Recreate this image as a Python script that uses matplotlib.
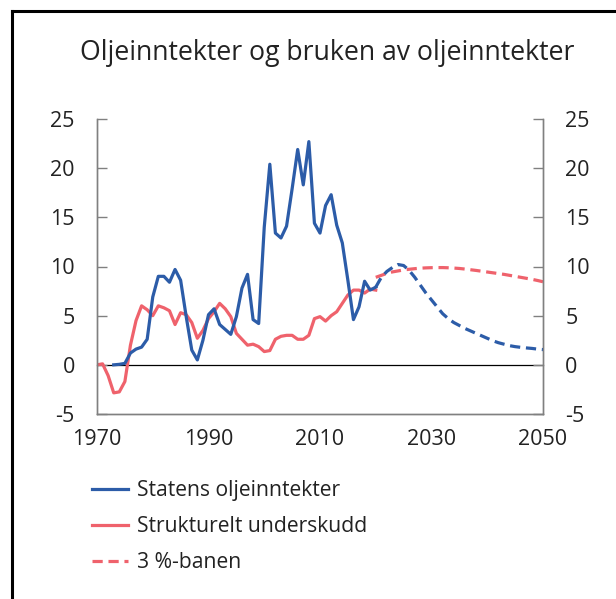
import matplotlib
matplotlib.use("Agg")
import matplotlib.pyplot as plt
from matplotlib.lines import Line2D

plt.rcParams['font.family'] = ['Open Sans', 'DejaVu Sans']
plt.rcParams['axes.unicode_minus'] = False

# Statens oljeinntekter (faktiske tall), prosent
oil_years = list(range(1973, 2021))
oil_income = [0.0, 0.05, 0.15, 1.2, 1.6, 1.8, 2.6, 6.9, 9.0, 9.0,
              8.4, 9.7, 8.6, 4.9, 1.5, 0.5, 2.5, 5.1, 5.7, 4.1,
              3.6, 3.1, 4.9, 7.8, 9.2, 4.6, 4.2, 14.0, 20.4, 13.4,
              12.9, 14.1, 17.9, 21.9, 18.3, 22.7, 14.4, 13.4, 16.2, 17.3,
              14.2, 12.4, 8.6, 4.6, 5.9, 8.5, 7.6, 7.9]

# Statens oljeinntekter, framskrivning
proj_years = list(range(2020, 2051))
oil_proj = [7.9, 8.9, 9.5, 9.9, 10.2, 10.1, 9.6, 8.9, 8.1, 7.3,
            6.6, 5.9, 5.2, 4.7, 4.3, 4.0, 3.7, 3.45, 3.2, 2.95,
            2.7, 2.45, 2.25, 2.1, 1.95, 1.85, 1.78, 1.72, 1.67, 1.6,
            1.55]

# Strukturelt underskudd
def_years = list(range(1970, 2021))
deficit = [0.0, 0.1, -1.1, -2.85, -2.75, -1.7, 2.0, 4.5, 6.0, 5.6,
           5.0, 6.0, 5.8, 5.5, 4.1, 5.3, 5.1, 4.3, 2.7, 3.5,
           4.7, 5.4, 6.25, 5.7, 4.9, 3.2, 2.6, 2.0, 2.1, 1.85,
           1.35, 1.45, 2.6, 2.9, 3.0, 3.0, 2.6, 2.6, 3.0, 4.7,
           4.9, 4.45, 5.0, 5.4, 6.25, 7.1, 7.6, 7.6, 7.3, 7.7,
           7.6]

# 3 %-banen
path3 = [8.9, 9.1, 9.3, 9.45, 9.55, 9.65, 9.72, 9.78, 9.83, 9.86,
         9.88, 9.89, 9.89, 9.87, 9.84, 9.8, 9.74, 9.67, 9.6, 9.52,
         9.44, 9.36, 9.28, 9.2, 9.1, 9.0, 8.9, 8.8, 8.7, 8.58,
         8.45]

BLUE = '#2c5ca8'
RED = '#ef626c'
TXT = '#222222'
SPINE = '#808080'

fig = plt.figure(figsize=(6.16, 5.99), dpi=100)
ax = fig.add_axes([97 / 616, 1 - 414 / 599, 446 / 616, 295 / 599])
ax2 = ax.twinx()

lw = 2.3
ax.plot([1970, 2050], [0, 0], color='black', lw=0.9, zorder=1, clip_on=False)
ax.plot(oil_years, oil_income, color=BLUE, lw=lw, label='Statens oljeinntekter',
        solid_joinstyle='round', zorder=3)
ax.plot(proj_years, oil_proj, color=BLUE, lw=lw, dashes=(3.2, 1.8), zorder=3)
ax.plot(def_years, deficit, color=RED, lw=lw, label='Strukturelt underskudd',
        solid_joinstyle='round', zorder=2)
ax.plot(proj_years, path3, color=RED, lw=lw, dashes=(3.2, 1.8),
        label='3 %-banen', zorder=2)

for a in (ax, ax2):
    a.set_xlim(1970, 2050)
    a.set_ylim(-5, 25)
    a.set_yticks(range(-5, 30, 5))
    a.spines['top'].set_visible(False)
    for s in ('left', 'right', 'bottom'):
        a.spines[s].set_color(SPINE)
        a.spines[s].set_linewidth(1.0)

ax.set_xticks([1970, 1990, 2010, 2030, 2050])
ax.tick_params(axis='x', length=0, pad=11, labelsize=15.5, labelcolor=TXT)
ax.tick_params(axis='y', direction='in', length=7, width=1.0, color=SPINE,
               pad=16, labelsize=15.5, labelcolor=TXT)
ax2.tick_params(axis='y', direction='in', length=7, width=1.0, color=SPINE,
                pad=16, labelsize=15.5, labelcolor=TXT)

fig.text(327 / 616, 1 - 53 / 599, 'Oljeinntekter og bruken av oljeinntekter',
         ha='center', va='center', fontsize=19.2, color=TXT)

fig.legend(loc='upper left', bbox_to_anchor=(92 / 616, 1 - 480 / 599),
           frameon=False, fontsize=15.2, handlelength=1.7, handletextpad=0.45,
           labelspacing=0.72, borderpad=0, borderaxespad=0, labelcolor=TXT)

# frame of the original figure box (left and top edges)
fig.add_artist(Line2D([12 / 616, 12 / 616], [0, 1 - 11 / 599], color='black',
                      lw=2.2, transform=fig.transFigure))
fig.add_artist(Line2D([12 / 616, 1], [1 - 11 / 599, 1 - 11 / 599], color='black',
                      lw=2.2, transform=fig.transFigure))

fig.savefig('out.png', dpi=100)
